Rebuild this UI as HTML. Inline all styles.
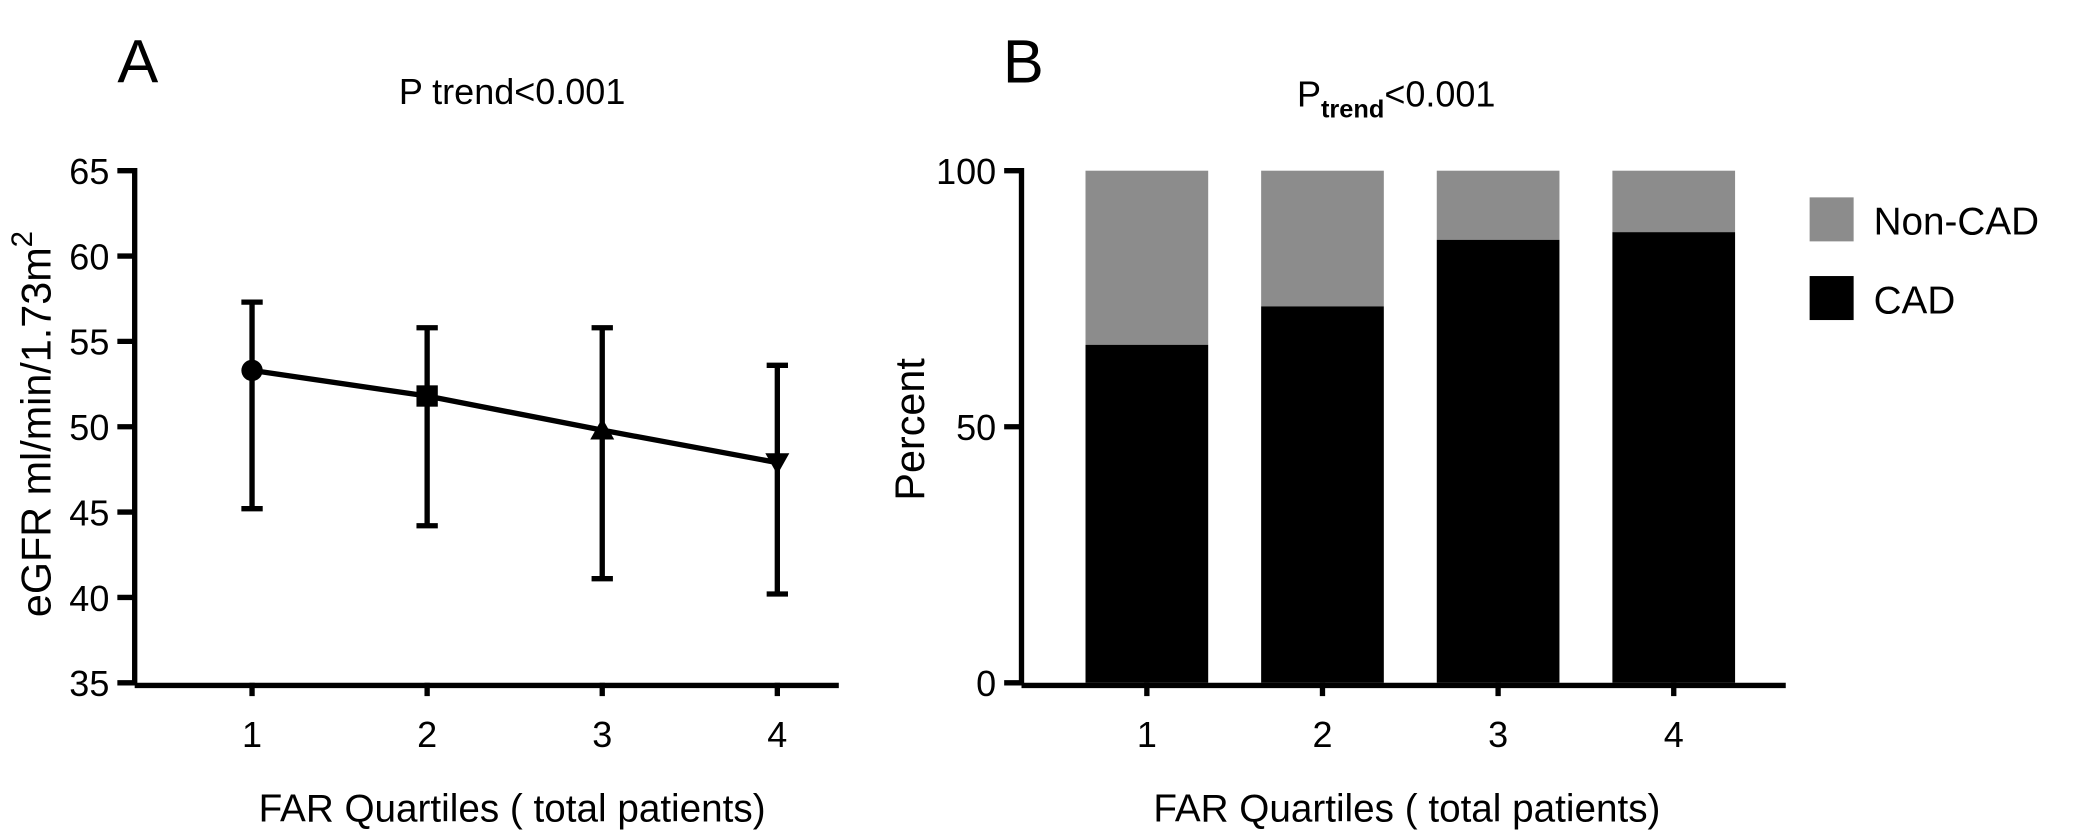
<!DOCTYPE html>
<html><head><meta charset="utf-8"><style>
html,body{margin:0;padding:0;background:#fff;}
svg{display:block;font-family:"Liberation Sans",Arial,sans-serif;}
</style></head><body>
<svg id="fig" width="2091" height="833" viewBox="0 0 2091 833">
<g transform="scale(1.33355)">
<g id="A"></g>
<g id="B"></g>
</g>
</svg>
<script>
const catsA = ["1","2","3","4"];
const meansA = [53.3, 51.8, 49.8, 47.9];
const lowA = [45.2, 44.2, 41.1, 40.2];
const highA = [57.3, 55.8, 55.8, 53.6];
const ticksA = [35,40,45,50,55,60,65];
const catsB = ["1","2","3","4"];
const cadB = [66, 73.5, 86.5, 88];
const nonCadB = [34, 26.5, 13.5, 12];
const ticksB = [0,50,100];

const NS="http://www.w3.org/2000/svg";
function mk(parent,tag,attrs,text){const e=document.createElementNS(NS,tag);for(const k in attrs)e.setAttribute(k,attrs[k]);if(text!==undefined)e.textContent=text;parent.appendChild(e);return e;}

// Panel A
const A=document.getElementById('A');
const yA=v=>512-(v-35)*(384/30);
const xA=i=>189+i*131.3;
let t;
t=mk(A,'text',{x:88,y:62,'font-size':46},'A');

t=mk(A,'text',{x:384,y:78,'font-size':27,'text-anchor':'middle'},'P trend<0.001');

t=mk(A,'line',{x1:101,y1:126,x2:101,y2:514,stroke:'#000','stroke-width':4});

ticksA.forEach(v=>{
 const l=mk(A,'line',{x1:88,y1:yA(v),x2:101,y2:yA(v),stroke:'#000','stroke-width':4});
 
 const tx=mk(A,'text',{x:82,y:yA(v)+10,'font-size':27,'text-anchor':'end'},String(v));
 
});
catsA.forEach((c,i)=>{
 const l=mk(A,'line',{x1:xA(i),y1:512,x2:xA(i),y2:522,stroke:'#000','stroke-width':4});
 
 const tx=mk(A,'text',{x:xA(i),y:560,'font-size':27,'text-anchor':'middle'},c);
 
});
t=mk(A,'line',{x1:101,y1:514,x2:629,y2:514,stroke:'#000','stroke-width':4});

t=mk(A,'text',{x:384,y:616,'font-size':29,'text-anchor':'middle'},'FAR Quartiles ( total patients)');

t=mk(A,'text',{x:0,y:0,'font-size':31,'text-anchor':'middle',transform:'translate(38,318) rotate(-90)'});

t.innerHTML='eGFR ml/min/1.73m<tspan dy="-14" font-size="22">2</tspan>';
catsA.forEach((c,i)=>{
 const g=mk(A,'g',{});
 
 mk(g,'line',{x1:xA(i),y1:yA(highA[i]),x2:xA(i),y2:yA(lowA[i]),stroke:'#000','stroke-width':4});
 mk(g,'line',{x1:xA(i)-8,y1:yA(highA[i]),x2:xA(i)+8,y2:yA(highA[i]),stroke:'#000','stroke-width':4});
 mk(g,'line',{x1:xA(i)-8,y1:yA(lowA[i]),x2:xA(i)+8,y2:yA(lowA[i]),stroke:'#000','stroke-width':4});
});
const pts=meansA.map((v,i)=>xA(i)+','+yA(v)).join(' ');
t=mk(A,'polyline',{points:pts,fill:'none',stroke:'#000','stroke-width':4});

meansA.forEach((v,i)=>{
 const x=xA(i),y=yA(v);let m;
 if(i===0)m=mk(A,'circle',{cx:x,cy:y,r:8});
 else if(i===1)m=mk(A,'rect',{x:x-8,y:y-8,width:16,height:16});
 else if(i===2)m=mk(A,'polygon',{points:`${x},${y-9} ${x-9},${y+7} ${x+9},${y+7}`});
 else m=mk(A,'polygon',{points:`${x},${y+9} ${x-9},${y-7} ${x+9},${y-7}`});
 
});

// Panel B
const B=document.getElementById('B');
const yB=v=>512-v*3.84;
const xB=i=>860+i*131.7;
const bw=92;
t=mk(B,'text',{x:752,y:62,'font-size':46},'B');

t=mk(B,'text',{x:1047,y:80,'font-size':27,'text-anchor':'middle'});

t.innerHTML='P<tspan dy="8" font-size="19" font-weight="bold">trend</tspan><tspan dy="-8">&lt;0.001</tspan>';
catsB.forEach((c,i)=>{
 const r1=mk(B,'rect',{x:xB(i)-bw/2,y:yB(cadB[i]+nonCadB[i]),width:bw,height:yB(cadB[i])-yB(cadB[i]+nonCadB[i]),fill:'#8c8c8c'});
 
 const r2=mk(B,'rect',{x:xB(i)-bw/2,y:yB(cadB[i]),width:bw,height:yB(0)-yB(cadB[i]),fill:'#000'});
 
 const l=mk(B,'line',{x1:xB(i),y1:512,x2:xB(i),y2:522,stroke:'#000','stroke-width':4});
 
 const tx=mk(B,'text',{x:xB(i),y:560,'font-size':27,'text-anchor':'middle'},c);
 
});
t=mk(B,'line',{x1:766,y1:126,x2:766,y2:514,stroke:'#000','stroke-width':4});

t=mk(B,'line',{x1:766,y1:514,x2:xB(3)+bw/2+38,y2:514,stroke:'#000','stroke-width':4});

ticksB.forEach(v=>{
 const l=mk(B,'line',{x1:753,y1:yB(v),x2:766,y2:yB(v),stroke:'#000','stroke-width':4});
 
 const tx=mk(B,'text',{x:747,y:yB(v)+10,'font-size':27,'text-anchor':'end'},String(v));
 
});
t=mk(B,'text',{x:0,y:0,'font-size':31,'text-anchor':'middle',transform:'translate(693,322) rotate(-90)'},'Percent');

t=mk(B,'text',{x:1055,y:616,'font-size':29,'text-anchor':'middle'},'FAR Quartiles ( total patients)');

t=mk(B,'rect',{x:1357,y:148,width:33,height:33,fill:'#8c8c8c'});

t=mk(B,'text',{x:1405,y:176,'font-size':29},'Non-CAD');

t=mk(B,'rect',{x:1357,y:207,width:33,height:33,fill:'#000'});

t=mk(B,'text',{x:1405,y:235,'font-size':29},'CAD');

</script>
</body></html>
